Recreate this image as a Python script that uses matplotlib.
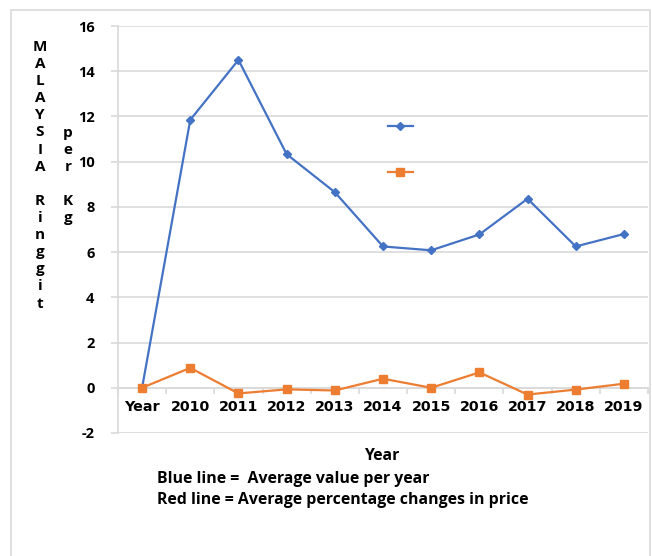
import matplotlib
matplotlib.use("Agg")
import matplotlib.pyplot as plt
from matplotlib.lines import Line2D
from matplotlib.patches import Rectangle
import numpy as np

categories = ["Year", "2010", "2011", "2012", "2013", "2014", "2015", "2016", "2017", "2018", "2019"]
avg_value = [0, 11.85, 14.5, 10.33, 8.65, 6.25, 6.08, 6.78, 8.36, 6.25, 6.8]
pct_change = [0, 0.88, -0.25, -0.07, -0.12, 0.4, 0.0, 0.68, -0.3, -0.08, 0.18]
y_ticks = [-2, 0, 2, 4, 6, 8, 10, 12, 14, 16]
ylabel_col1 = ["M", "A", "L", "A", "Y", "S", "I", "A", "", "R", "i", "n", "g", "g", "i", "t"]
ylabel_col2 = ["p", "e", "r", "", "K", "g"]
note_lines = ["Blue line =  Average value per year", "Red line = Average percentage changes in price"]

BLUE = "#4472C4"
ORANGE = "#ED7D31"
GRID = "#D9D9D9"

W, H = 652, 556
fig = plt.figure(figsize=(W / 100, H / 100), dpi=100)
fig.patch.set_facecolor("white")

# outer chart border
fig.patches.append(Rectangle((11 / W, -0.05), (650 - 11) / W, 1.05 - 10 / H,
                             transform=fig.transFigure, fill=False,
                             edgecolor=GRID, linewidth=1.2))

left, right, top, bottom = 118, 648, 26, 433
ax = fig.add_axes([left / W, 1 - bottom / H, (right - left) / W, (bottom - top) / H])

x = np.arange(len(categories))
ax.plot(x, avg_value, color=BLUE, lw=1.6, marker="D", ms=4.5, mfc=BLUE, mec=BLUE, zorder=3)
ax.plot(x, pct_change, color=ORANGE, lw=1.6, marker="s", ms=6, mfc=ORANGE, mec=ORANGE, zorder=3)

ax.set_xlim(-0.5, len(categories) - 0.5)
ax.set_ylim(-2, 16)
ax.set_yticks(y_ticks)
ax.set_yticklabels([str(v) for v in y_ticks], fontfamily="Open Sans", fontweight="bold", fontsize=10.5)
ax.yaxis.grid(True, color=GRID, lw=1.2)
ax.set_axisbelow(True)

for s in ["top", "right"]:
    ax.spines[s].set_visible(False)
ax.spines["left"].set_color(GRID)
ax.spines["left"].set_linewidth(1.2)
ax.spines["bottom"].set_position(("data", 0))
ax.spines["bottom"].set_color(GRID)
ax.spines["bottom"].set_linewidth(1.2)

ax.tick_params(axis="y", length=5, color=GRID, width=1.2, pad=12)
ax.set_xticks(x)
ax.set_xticklabels(categories, fontfamily="DejaVu Sans", fontweight="bold", fontsize=10.3)
ax.set_xticks(np.arange(len(categories) + 1) - 0.5, minor=True)
ax.tick_params(axis="x", which="major", length=0, pad=9)
ax.tick_params(axis="x", which="minor", length=4, color=GRID, width=1.2)

# legend (markers only, no text)
handles = [Line2D([0], [0], color=BLUE, lw=1.6, marker="D", ms=4.5),
           Line2D([0], [0], color=ORANGE, lw=1.6, marker="s", ms=6)]
ax.legend(handles, ["", ""], loc="center", bbox_to_anchor=((400 - left) / (right - left), 1 - (150 - top) / (bottom - top)),
          frameon=False, handlelength=1.8, labelspacing=2.3, handletextpad=0, fontsize=10)

# vertical y-label letters
step = 17.1
for i, ch in enumerate(ylabel_col1):
    if ch:
        fig.text(40 / W, 1 - (47 + i * step) / H, ch, ha="center", va="center",
                 fontfamily="Open Sans", fontweight="bold", fontsize=11)
for i, ch in enumerate(ylabel_col2):
    if ch:
        fig.text(68 / W, 1 - (47 + (i + 5) * step) / H, ch, ha="center", va="center",
                 fontfamily="Open Sans", fontweight="bold", fontsize=11)

fig.text(383 / W, 1 - 456 / H, "Year", ha="center", va="center",
         fontfamily="Open Sans", fontweight="bold", fontsize=11.3)
fig.text(157 / W, 1 - 479 / H, note_lines[0], ha="left", va="center",
         fontfamily="Open Sans", fontweight="bold", fontsize=11.4)
fig.text(157 / W, 1 - 500 / H, note_lines[1], ha="left", va="center",
         fontfamily="Open Sans", fontweight="bold", fontsize=11.4)

fig.savefig("out.png", dpi=100, facecolor="white")
